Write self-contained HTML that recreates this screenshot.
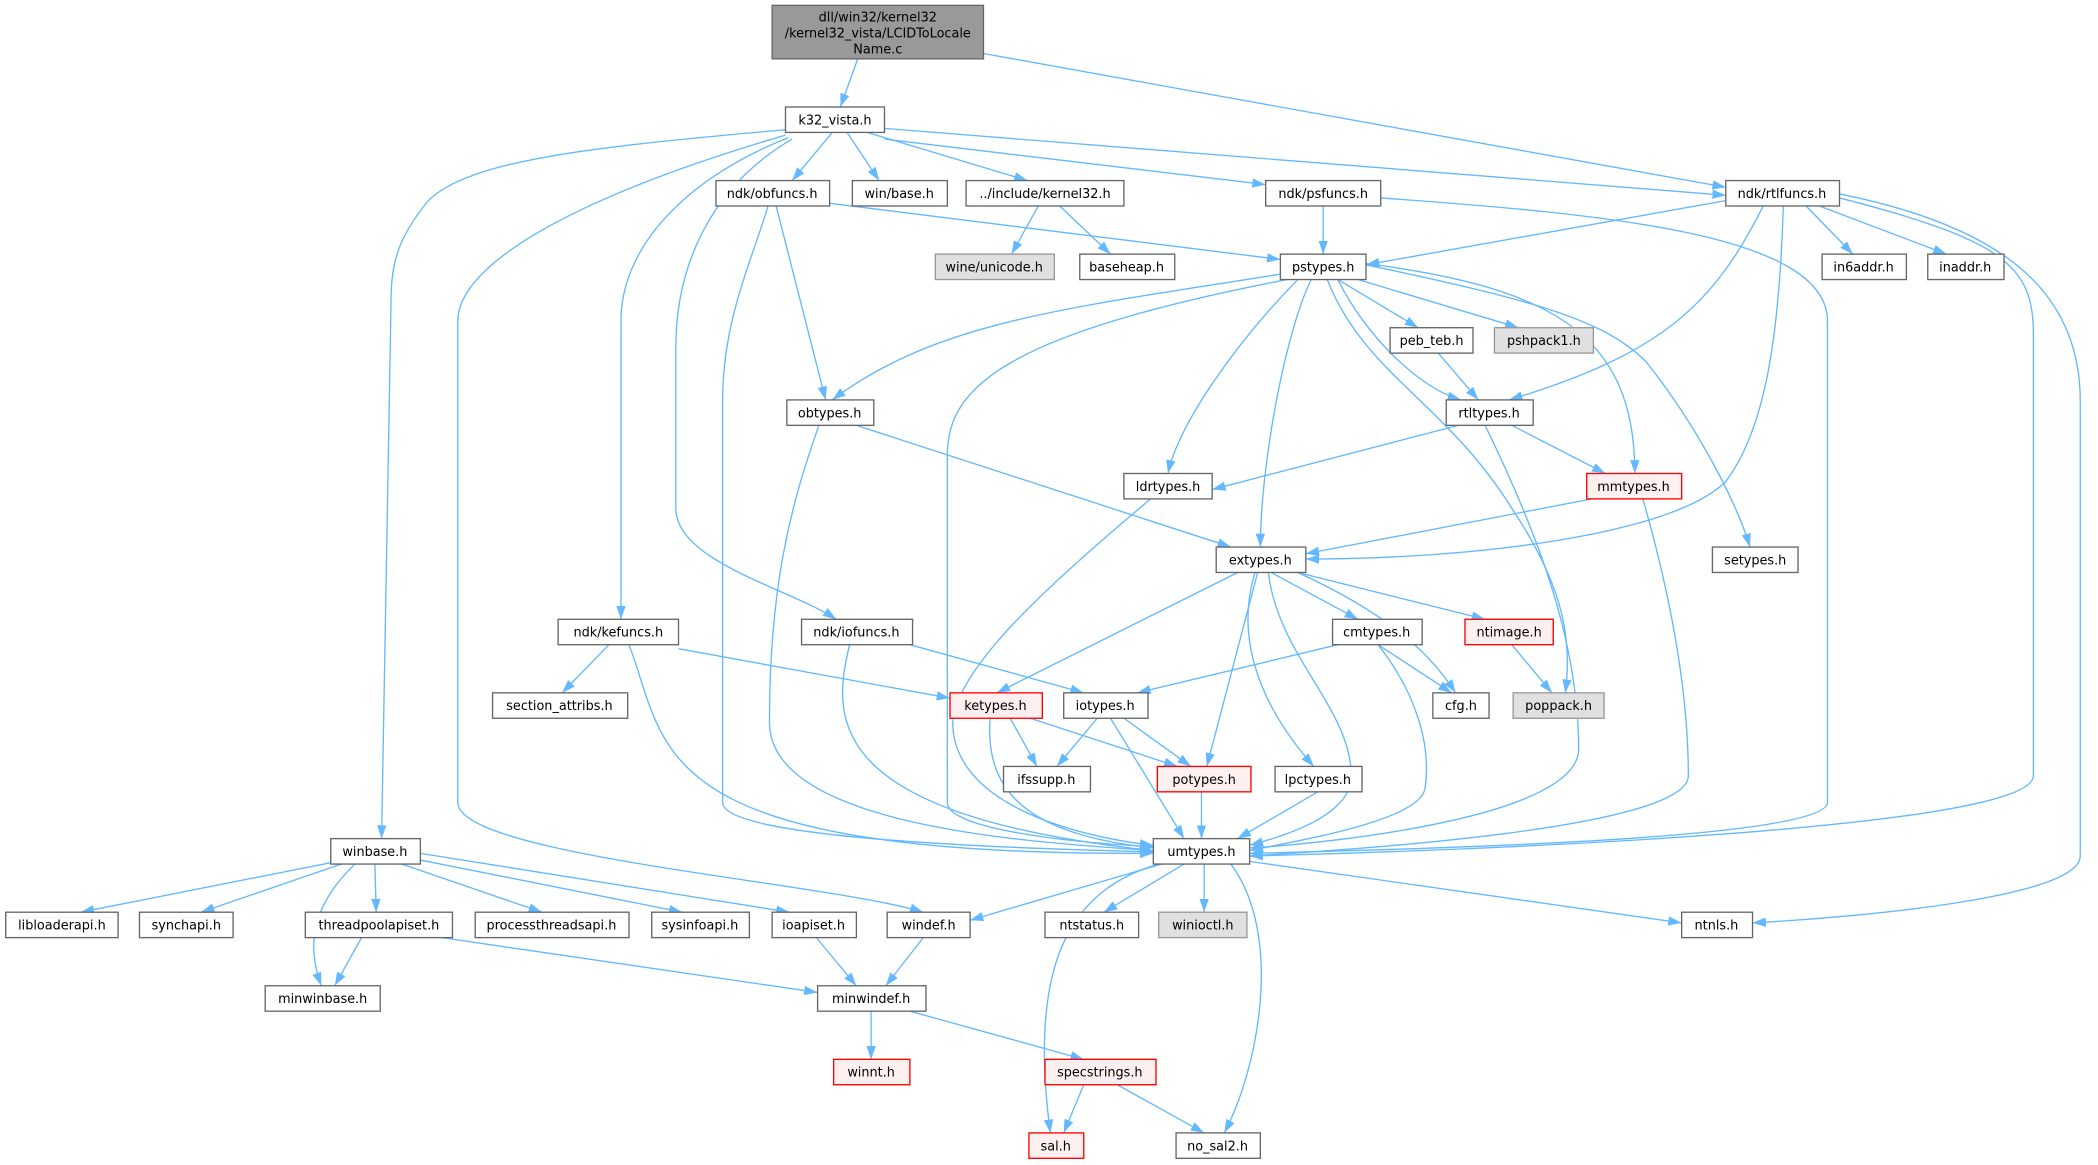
<!DOCTYPE html>
<html><head><meta charset="utf-8"><style>
html,body{margin:0;padding:0;background:#fff;}
svg{display:block;}
text{font-family:"DejaVu Sans","Liberation Sans",sans-serif;font-size:9.6px;fill:#000;text-anchor:middle;}
.n{fill:#fff;stroke:#666;stroke-width:1;}
.g{fill:#e0e0e0;stroke:#999;stroke-width:1;}
.r{fill:#fff0f0;stroke:#f00;stroke-width:1;}
.e{fill:none;stroke:#63b8ff;stroke-width:1;marker-end:url(#a);}
</style></head><body>
<svg width="2098" height="1165" viewBox="0 0 1568 871" xmlns="http://www.w3.org/2000/svg">
<defs><marker id="a" viewBox="0 0 10 10" refX="10" refY="5" markerWidth="10" markerHeight="10" markerUnits="userSpaceOnUse" orient="auto"><path d="M0,1.5 L10,5 L0,8.5 z" fill="#63b8ff"/></marker></defs>
<g>
<path class="e" d="M641,44 L628,80"/>
<path class="e" d="M735,40 L1290,140"/>
<path class="e" d="M622,99 L592,135"/>
<path class="e" d="M633,99 L657,135"/>
<path class="e" d="M648,99 L768,135"/>
<path class="e" d="M661,104 L946,138"/>
<path class="e" d="M661,96 L1290,146"/>
<path class="e" d="M587,97 C440,110 350,120 320,150 C295,180 292,200 292,230 L285,627"/>
<path class="e" d="M587,101 C420,150 342,200 342,240 L342,600 C342,640 620,660 690,682"/>
<path class="e" d="M589,103 C520,130 464,180 464,240 L464,463"/>
<path class="e" d="M592,104 C530,140 505,200 505,260 L505,380 C505,420 590,440 625,463"/>
<path class="e" d="M620,152 L957,194"/>
<path class="e" d="M580,154 L617,299"/>
<path class="e" d="M574,154 C560,200 540,240 540,300 L540,600 C540,630 800,635 862,637"/>
<path class="e" d="M776,154 L756,190"/>
<path class="e" d="M792,154 L830,190"/>
<path class="e" d="M989,154 L989,190"/>
<path class="e" d="M1032,148 C1200,160 1366,175 1366,240 L1366,600 C1366,630 1000,636 934,638"/>
<path class="e" d="M1290,150 L1021,198"/>
<path class="e" d="M1350,154 L1385,190"/>
<path class="e" d="M1360,154 L1455,190"/>
<path class="e" d="M1318,154 C1280,230 1240,265 1128,299"/>
<path class="e" d="M1333,154 C1330,250 1320,320 1290,360 C1250,400 1100,418 976,418"/>
<path class="e" d="M1375,148 C1500,180 1520,200 1520,250 L1520,580 C1520,620 1100,636 934,640"/>
<path class="e" d="M1375,145 C1500,170 1555,220 1555,300 L1555,640 C1555,670 1400,685 1310,690"/>
<path class="e" d="M957,205 C800,230 700,240 622,299"/>
<path class="e" d="M962,209 C750,250 708,290 708,340 L708,600 C708,620 800,630 862,633"/>
<path class="e" d="M970,209 C920,260 880,320 873,354"/>
<path class="e" d="M980,209 C960,250 942,350 942,409"/>
<path class="e" d="M1000,209 L1060,245"/>
<path class="e" d="M1015,209 L1135,245"/>
<path class="e" d="M1000,209 C1020,250 1060,290 1092,299"/>
<path class="e" d="M1021,197 C1160,215 1222,250 1222,354"/>
<path class="e" d="M1021,198 C1150,225 1200,240 1230,270 C1270,320 1300,380 1308,409"/>
<path class="e" d="M992,209 C1020,280 1080,300 1130,380 C1170,440 1175,480 1170,518"/>
<path class="e" d="M1075,264 L1105,299"/>
<path class="e" d="M640,318 L920,409"/>
<path class="e" d="M612,318 C590,380 575,440 575,540 C575,620 780,630 862,636"/>
<path class="e" d="M1090,318 L906,366"/>
<path class="e" d="M1130,318 L1200,354"/>
<path class="e" d="M1110,318 C1150,400 1180,480 1180,560 C1180,610 1000,630 934,634"/>
<path class="e" d="M860,373 C780,440 715,500 712,540 C712,600 800,625 862,632"/>
<path class="e" d="M1190,373 L976,414"/>
<path class="e" d="M1228,373 C1250,450 1262,520 1262,580 C1262,620 1000,636 934,640"/>
<path class="e" d="M950,428 L1015,463"/>
<path class="e" d="M970,428 L1110,463"/>
<path class="e" d="M970,428 C1040,460 1070,490 1088,518"/>
<path class="e" d="M925,428 L745,518"/>
<path class="e" d="M940,428 L902,573"/>
<path class="e" d="M938,428 C925,470 935,520 982,573"/>
<path class="e" d="M948,428 C955,490 1010,530 1010,580 C1010,610 960,625 934,632"/>
<path class="e" d="M1130,482 L1160,518"/>
<path class="e" d="M1000,482 L850,518"/>
<path class="e" d="M1030,482 L1085,518"/>
<path class="e" d="M1030,482 C1060,520 1070,560 1065,590 C1060,615 960,630 934,636"/>
<path class="e" d="M455,482 L420,518"/>
<path class="e" d="M507,485 L710,522"/>
<path class="e" d="M470,482 C500,560 480,640 862,638"/>
<path class="e" d="M680,482 L810,518"/>
<path class="e" d="M635,482 C620,540 620,610 862,636"/>
<path class="e" d="M755,537 L775,573"/>
<path class="e" d="M770,537 L880,573"/>
<path class="e" d="M740,537 C735,600 780,625 862,634"/>
<path class="e" d="M820,537 L790,573"/>
<path class="e" d="M840,537 L890,573"/>
<path class="e" d="M830,537 L885,627"/>
<path class="e" d="M898,592 L898,627"/>
<path class="e" d="M985,592 L925,627"/>
<path class="e" d="M868,646 L725,688"/>
<path class="e" d="M885,646 L825,682"/>
<path class="e" d="M900,646 L900,682"/>
<path class="e" d="M934,644 L1257,690"/>
<path class="e" d="M866,646 C800,665 768,720 785,847"/>
<path class="e" d="M920,646 C960,700 940,800 915,847"/>
<path class="e" d="M247,645 L60,682"/>
<path class="e" d="M255,646 L150,682"/>
<path class="e" d="M280,646 L281,682"/>
<path class="e" d="M300,646 L405,682"/>
<path class="e" d="M314,643 L510,682"/>
<path class="e" d="M314,638 L590,682"/>
<path class="e" d="M265,646 C230,680 230,710 240,737"/>
<path class="e" d="M270,701 L250,737"/>
<path class="e" d="M330,701 L611,742"/>
<path class="e" d="M610,701 L640,737"/>
<path class="e" d="M690,701 L662,737"/>
<path class="e" d="M651,756 L651,792"/>
<path class="e" d="M680,756 L810,792"/>
<path class="e" d="M810,811 L795,847"/>
<path class="e" d="M835,811 L900,847"/>
</g>
<g>
<rect x="577" y="4" width="158" height="40" fill="#999" stroke="#666"/>
<text x="656" y="16">dll/win32/kernel32</text><text x="656" y="28">/kernel32_vista/LCIDToLocale</text><text x="656" y="40">Name.c</text>
<rect class="n" x="587" y="80" width="74" height="19"/><text x="624" y="93">k32_vista.h</text>
<rect class="n" x="535" y="135" width="85" height="19"/><text x="577" y="148">ndk/obfuncs.h</text>
<rect class="n" x="637" y="135" width="71" height="19"/><text x="672" y="148">win/base.h</text>
<rect class="n" x="722" y="135" width="118" height="19"/><text x="781" y="148">../include/kernel32.h</text>
<rect class="n" x="946" y="135" width="86" height="19"/><text x="989" y="148">ndk/psfuncs.h</text>
<rect class="n" x="1290" y="135" width="85" height="19"/><text x="1332" y="148">ndk/rtlfuncs.h</text>
<rect class="g" x="699" y="190" width="89" height="19"/><text x="743" y="203">wine/unicode.h</text>
<rect class="n" x="807" y="190" width="71" height="19"/><text x="842" y="203">baseheap.h</text>
<rect class="n" x="957" y="190" width="64" height="19"/><text x="989" y="203">pstypes.h</text>
<rect class="n" x="1362" y="190" width="63" height="19"/><text x="1393" y="203">in6addr.h</text>
<rect class="n" x="1441" y="190" width="57" height="19"/><text x="1469" y="203">inaddr.h</text>
<rect class="n" x="1039" y="245" width="62" height="19"/><text x="1070" y="258">peb_teb.h</text>
<rect class="g" x="1117" y="245" width="74" height="19"/><text x="1154" y="258">pshpack1.h</text>
<rect class="n" x="588" y="299" width="65" height="19"/><text x="620" y="312">obtypes.h</text>
<rect class="n" x="1081" y="299" width="65" height="19"/><text x="1113" y="312">rtltypes.h</text>
<rect class="n" x="840" y="354" width="66" height="19"/><text x="873" y="367">ldrtypes.h</text>
<rect class="r" x="1186" y="354" width="71" height="19"/><text x="1221" y="367">mmtypes.h</text>
<rect class="n" x="909" y="409" width="67" height="19"/><text x="942" y="422">extypes.h</text>
<rect class="n" x="1280" y="409" width="64" height="19"/><text x="1312" y="422">setypes.h</text>
<rect class="n" x="417" y="463" width="90" height="19"/><text x="462" y="476">ndk/kefuncs.h</text>
<rect class="n" x="599" y="463" width="83" height="19"/><text x="640" y="476">ndk/iofuncs.h</text>
<rect class="n" x="996" y="463" width="67" height="19"/><text x="1029" y="476">cmtypes.h</text>
<rect class="r" x="1095" y="463" width="66" height="19"/><text x="1128" y="476">ntimage.h</text>
<rect class="n" x="1071" y="518" width="42" height="19"/><text x="1092" y="531">cfg.h</text>
<rect class="g" x="1131" y="518" width="68" height="19"/><text x="1165" y="531">poppack.h</text>
<rect class="n" x="795" y="518" width="63" height="19"/><text x="826" y="531">iotypes.h</text>
<rect class="n" x="368" y="518" width="101" height="19"/><text x="418" y="531">section_attribs.h</text>
<rect class="r" x="710" y="518" width="69" height="19"/><text x="744" y="531">ketypes.h</text>
<rect class="n" x="750" y="573" width="65" height="19"/><text x="782" y="586">ifssupp.h</text>
<rect class="r" x="865" y="573" width="70" height="19"/><text x="900" y="586">potypes.h</text>
<rect class="n" x="953" y="573" width="65" height="19"/><text x="985" y="586">lpctypes.h</text>
<rect class="n" x="862" y="627" width="72" height="19"/><text x="898" y="640">umtypes.h</text>
<rect class="n" x="247" y="627" width="67" height="19"/><text x="280" y="640">winbase.h</text>
<rect class="n" x="4" y="682" width="84" height="19"/><text x="46" y="695">libloaderapi.h</text>
<rect class="n" x="104" y="682" width="70" height="19"/><text x="139" y="695">synchapi.h</text>
<rect class="n" x="228" y="682" width="110" height="19"/><text x="283" y="695">threadpoolapiset.h</text>
<rect class="n" x="355" y="682" width="115" height="19"/><text x="412" y="695">processthreadsapi.h</text>
<rect class="n" x="487" y="682" width="73" height="19"/><text x="523" y="695">sysinfoapi.h</text>
<rect class="n" x="577" y="682" width="63" height="19"/><text x="608" y="695">ioapiset.h</text>
<rect class="n" x="663" y="682" width="62" height="19"/><text x="694" y="695">windef.h</text>
<rect class="n" x="781" y="682" width="70" height="19"/><text x="816" y="695">ntstatus.h</text>
<rect class="g" x="866" y="682" width="66" height="19"/><text x="899" y="695">winioctl.h</text>
<rect class="n" x="1257" y="682" width="53" height="19"/><text x="1283" y="695">ntnls.h</text>
<rect class="n" x="198" y="737" width="86" height="19"/><text x="241" y="750">minwinbase.h</text>
<rect class="n" x="611" y="737" width="81" height="19"/><text x="651" y="750">minwindef.h</text>
<rect class="r" x="623" y="792" width="57" height="19"/><text x="651" y="805">winnt.h</text>
<rect class="r" x="781" y="792" width="83" height="19"/><text x="822" y="805">specstrings.h</text>
<rect class="r" x="769" y="847" width="41" height="19"/><text x="789" y="860">sal.h</text>
<rect class="n" x="879" y="847" width="63" height="19"/><text x="910" y="860">no_sal2.h</text>
</g>
</svg>
</body></html>
